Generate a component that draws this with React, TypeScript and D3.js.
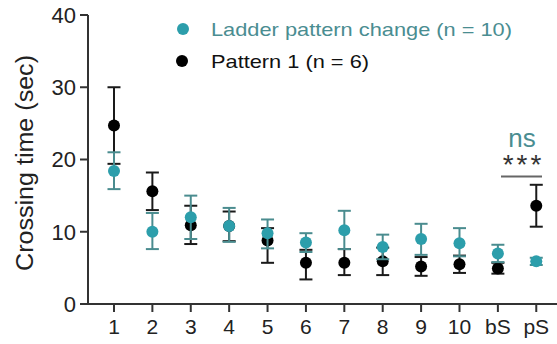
import React from "react";
import * as d3 from "d3";

const categories = ["1", "2", "3", "4", "5", "6", "7", "8", "9", "10", "bS", "pS"];
// Ladder pattern change (n = 10)
const ladderMean = [18.4, 10.0, 12.0, 10.8, 9.8, 8.5, 10.2, 7.9, 9.0, 8.4, 7.0, 5.9];
const ladderLow = [15.9, 7.6, 9.0, 8.6, 7.7, 7.2, 7.6, 6.2, 6.8, 6.6, 5.8, 5.4];
const ladderHigh = [21.0, 12.6, 15.0, 13.3, 11.7, 9.8, 12.9, 9.6, 11.1, 10.5, 8.2, 6.4];
// Pattern 1 (n = 6)
const patternMean = [24.7, 15.6, 10.9, 10.8, 8.8, 5.7, 5.7, 5.9, 5.2, 5.5, 4.9, 13.6];
const patternLow = [19.4, 13.0, 8.3, 8.7, 5.7, 3.4, 4.0, 4.0, 3.9, 4.3, 4.2, 10.7];
const patternHigh = [30.0, 18.2, 13.6, 12.8, 10.5, 7.5, 7.6, 7.8, 6.5, 6.7, 5.7, 16.5];
const yTicks = [0, 10, 20, 30, 40];

const TEAL = "#2c9eab";
const TEAL_BAR = "#4a8c8f";
const TEAL_TEXT = "#4a8d91";
const AXIS = "#333";

export default function App() {
  const W = 557, H = 344;
  const x = d3.scaleLinear().domain([0.323, 12.54]).range([88, 557]);
  const y = d3.scaleLinear().domain([0, 40]).range([304, 15]);
  const idx = categories.map((_, i) => i + 1);
  const capW = 6.5;

  const series = [
    { mean: patternMean, low: patternLow, high: patternHigh, fill: "#000", bar: "#1a1a1a" },
    { mean: ladderMean, low: ladderLow, high: ladderHigh, fill: TEAL, bar: TEAL_BAR },
  ];

  return (
    <svg width={W} height={H} style={{ position: "absolute", left: 0, top: 0, fontFamily: "'Liberation Sans', Arial, sans-serif" }}>
      {/* axes */}
      <line x1={88} x2={88} y1={y(40)} y2={y(0)} stroke={AXIS} strokeWidth={2} />
      <line x1={87} x2={557} y1={y(0)} y2={y(0)} stroke={AXIS} strokeWidth={2} />
      {yTicks.map((t) => (
        <g key={t}>
          <line x1={80} x2={88} y1={y(t)} y2={y(t)} stroke={AXIS} strokeWidth={2} />
          <text x={76} y={y(t)} dy="0.36em" textAnchor="end" fontSize={22} fill="#222">{t}</text>
        </g>
      ))}
      {categories.map((c, i) => (
        <g key={c}>
          <line x1={x(i + 1)} x2={x(i + 1)} y1={y(0)} y2={y(0) + 8} stroke={AXIS} strokeWidth={2} />
          <text x={x(i + 1)} y={334} textAnchor="middle" fontSize={21} fill="#222">{c}</text>
        </g>
      ))}
      <text transform={`translate(33,${163}) rotate(-90)`} textAnchor="middle" fontSize={23} fill="#222" textLength={216} lengthAdjust="spacingAndGlyphs">Crossing time (sec)</text>

      {/* error bars & points */}
      {series.map((s, si) => (
        <g key={si}>
          {idx.map((v, i) => (
            <g key={i} stroke={s.bar} strokeWidth={2}>
              <line x1={x(v)} x2={x(v)} y1={y(s.low[i])} y2={y(s.high[i])} />
              <line x1={x(v) - capW} x2={x(v) + capW} y1={y(s.low[i])} y2={y(s.low[i])} />
              <line x1={x(v) - capW} x2={x(v) + capW} y1={y(s.high[i])} y2={y(s.high[i])} />
            </g>
          ))}
          {idx.map((v, i) => (
            <circle key={i} cx={x(v)} cy={y(s.mean[i])} r={6} fill={s.fill} />
          ))}
        </g>
      ))}

      {/* significance */}
      <text x={522} y={147} textAnchor="middle" fontSize={26} fill={TEAL_TEXT}>ns</text>
      <text x={523.5} y={174} textAnchor="middle" fontSize={28} fill="#333" letterSpacing={3}>***</text>
      <line x1={501} x2={542} y1={176.5} y2={176.5} stroke="#666" strokeWidth={2} />

      {/* legend */}
      <circle cx={183} cy={29} r={6} fill={TEAL} />
      <text x={211} y={36} fontSize={19} fill={TEAL_TEXT} textLength={301} lengthAdjust="spacingAndGlyphs">Ladder pattern change (n = 10)</text>
      <circle cx={182} cy={61} r={6} fill="#000" />
      <text x={211} y={68} fontSize={19} fill="#111" textLength={158} lengthAdjust="spacingAndGlyphs">Pattern 1 (n = 6)</text>
    </svg>
  );
}
